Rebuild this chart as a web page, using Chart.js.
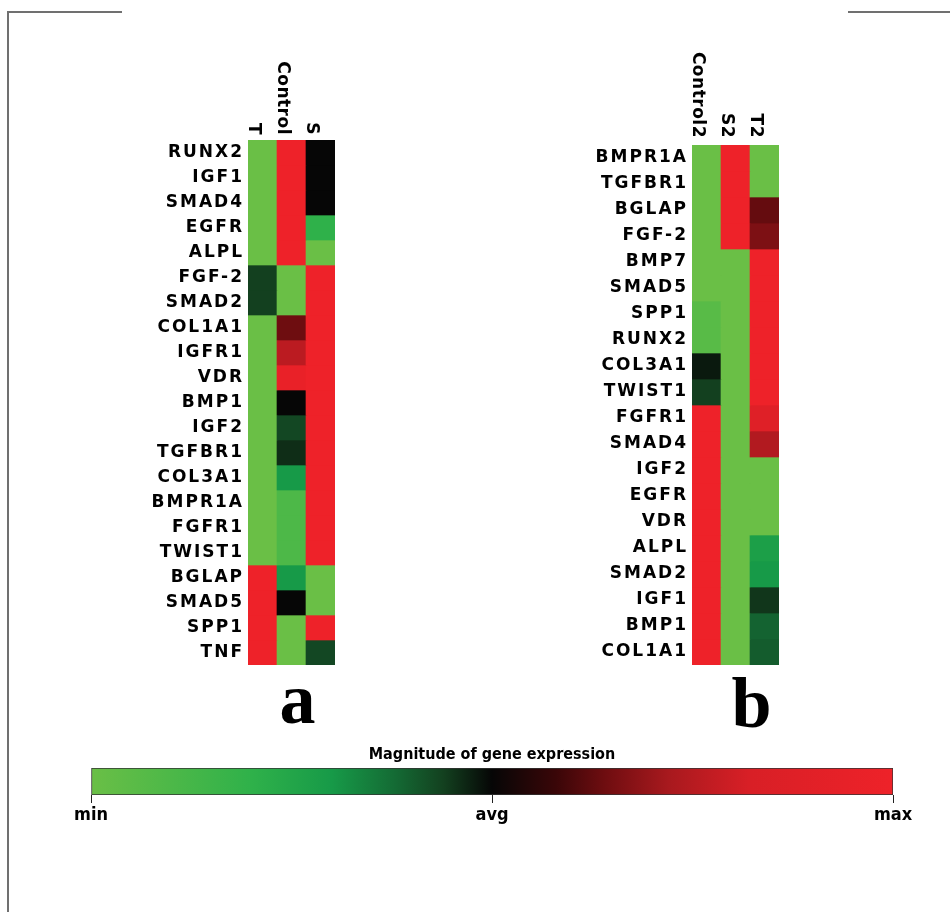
<!DOCTYPE html>
<html>
<head>
<meta charset="utf-8">
<script src="https://cdn.jsdelivr.net/npm/chart.js@4.4.0/dist/chart.umd.min.js"></script>
<style>
  body { margin: 0; background: #fff; width: 950px; height: 912px; position: relative; overflow: hidden; }
  .line { position: absolute; background: #707070; }
  canvas { position: absolute; }
</style>
</head>
<body>
<div class="line" style="left:7px;top:11px;width:115px;height:2px"></div>
<div class="line" style="left:848px;top:11px;width:102px;height:2px"></div>
<div class="line" style="left:7px;top:11px;width:2px;height:901px"></div>

<canvas id="heatA" width="210" height="700" style="left:140px;top:50px"></canvas>
<canvas id="heatB" width="220" height="700" style="left:580px;top:40px"></canvas>
<canvas id="colorBar" width="880" height="100" style="left:50px;top:735px"></canvas>

<script>
// Panel a
const genesA = ['RUNX2', 'IGF1', 'SMAD4', 'EGFR', 'ALPL', 'FGF-2', 'SMAD2', 'COL1A1', 'IGFR1', 'VDR', 'BMP1',
                'IGF2', 'TGFBR1', 'COL3A1', 'BMPR1A', 'FGFR1', 'TWIST1', 'BGLAP', 'SMAD5', 'SPP1', 'TNF'];
const groupsA = ['T', 'Control', 'S'];
// 0 = min (green), 0.5 = avg (black), 1 = max (red)
const valT       = [0, 0, 0, 0, 0, 0.44, 0.44, 0, 0, 0, 0, 0, 0, 0, 0, 0, 0, 1, 1, 1, 1];
const valControl = [1, 1, 1, 1, 1, 0, 0, 0.64, 0.76, 0.96, 0.5, 0.43, 0.46, 0.3, 0.1, 0.1, 0.1, 0.3, 0.5, 0, 0];
const valS       = [0.5, 0.5, 0.5, 0.2, 0, 1, 1, 1, 1, 1, 1, 1, 1, 1, 1, 1, 1, 0, 0, 1, 0.43];

// Panel b
const genesB = ['BMPR1A', 'TGFBR1', 'BGLAP', 'FGF-2', 'BMP7', 'SMAD5', 'SPP1', 'RUNX2', 'COL3A1', 'TWIST1',
                'FGFR1', 'SMAD4', 'IGF2', 'EGFR', 'VDR', 'ALPL', 'SMAD2', 'IGF1', 'BMP1', 'COL1A1'];
const groupsB = ['Control2', 'S2', 'T2'];
const valControl2 = [0, 0, 0, 0, 0, 0, 0.06, 0.06, 0.48, 0.44, 1, 1, 1, 1, 1, 1, 1, 1, 1, 1];
const valS2       = [1, 1, 1, 1, 0, 0, 0, 0, 0, 0, 0, 0, 0, 0, 0, 0, 0, 0, 0, 0];
const valT2       = [0, 0, 0.63, 0.66, 1, 1, 1, 1, 1, 1, 0.88, 0.74, 0, 0, 0, 0.28, 0.3, 0.45, 0.39, 0.4];

// colour scale
const scaleTicks = ['min', 'avg', 'max'];
const scaleTickPos = [0, 0.5, 1];
const stops = [
  [0.00, [106, 191, 70]],
  [0.20, [47, 177, 74]],
  [0.30, [23, 154, 72]],
  [0.38, [20, 106, 52]],
  [0.44, [19, 64, 31]],
  [0.50, [6, 6, 6]],
  [0.58, [58, 6, 8]],
  [0.64, [110, 13, 16]],
  [0.72, [168, 25, 30]],
  [0.82, [216, 31, 38]],
  [1.00, [238, 34, 41]]
];

function colorAt(t) {
  for (let i = 1; i < stops.length; i++) {
    if (t <= stops[i][0]) {
      const [t0, c0] = stops[i - 1];
      const [t1, c1] = stops[i];
      const f = (t - t0) / (t1 - t0);
      const c = c0.map((v, k) => Math.round(v + (c1[k] - v) * f));
      return `rgb(${c[0]},${c[1]},${c[2]})`;
    }
  }
  const c = stops[stops.length - 1][1];
  return `rgb(${c[0]},${c[1]},${c[2]})`;
}

// column labels (rotated) + panel letter
const panelPlugin = {
  id: 'panel',
  beforeDraw(chart) {
    chart.ctx.letterSpacing = '2px';
  },
  afterDraw(chart, args, o) {
    const { ctx, chartArea, scales: { x } } = chart;
    ctx.save();
    ctx.fillStyle = '#000';
    ctx.letterSpacing = '0.5px';
    ctx.font = 'bold 17px "DejaVu Sans"';
    ctx.textAlign = 'right';
    ctx.textBaseline = 'alphabetic';
    chart.data.labels.forEach((lab, i) => {
      ctx.save();
      ctx.translate(x.getPixelForValue(i) - 14, chartArea.top - o.gap);
      ctx.rotate(Math.PI / 2);
      ctx.fillText(lab, 0, 0);
      ctx.restore();
    });
    ctx.letterSpacing = '0px';
    ctx.font = 'bold 72px "Liberation Serif"';
    ctx.textAlign = 'center';
    ctx.fillText(o.letter, (chartArea.left + chartArea.right) / 2 + o.dx, chartArea.bottom + o.dy);
    ctx.restore();
  }
};

function heatmap(id, genes, groups, columns, opt) {
  const datasets = genes.map((g, i) => ({
    label: g,
    data: groups.map(() => 1),
    backgroundColor: columns.map(col => colorAt(col[i])),
    borderWidth: 0
  }));
  return new Chart(document.getElementById(id), {
    type: 'bar',
    data: { labels: groups, datasets: datasets },
    options: {
      responsive: false,
      animation: false,
      datasets: { bar: { barPercentage: 1, categoryPercentage: 1 } },
      layout: { padding: { left: 0, top: opt.top, right: opt.right, bottom: opt.bottom } },
      plugins: {
        legend: { display: false },
        tooltip: { enabled: false },
        panel: { letter: opt.letter, dx: opt.dx, dy: opt.dy, gap: opt.gap }
      },
      scales: {
        x: { stacked: true, display: false },
        y: {
          stacked: true,
          reverse: true,
          min: 0,
          max: genes.length,
          grid: { display: false, drawTicks: false },
          border: { display: false },
          afterFit: s => { s.width = opt.labelWidth; },
          afterBuildTicks: s => { s.ticks = genes.map((g, i) => ({ value: i + 0.5 })); },
          ticks: {
            autoSkip: false,
            padding: 4,
            color: '#000',
            font: { family: 'DejaVu Sans', size: 17, weight: 'bold' },
            callback: v => genes[Math.floor(v)]
          }
        }
      }
    },
    plugins: [panelPlugin]
  });
}

heatmap('heatA', genesA, groupsA, [valT, valControl, valS],
  { labelWidth: 108, top: 90, right: 15, bottom: 85, letter: 'a', dx: 6, dy: 58, gap: 5 });
heatmap('heatB', genesB, groupsB, [valControl2, valS2, valT2],
  { labelWidth: 112, top: 105, right: 21, bottom: 75, letter: 'b', dx: 16, dy: 62, gap: 7 });

// colour bar legend
const narrow = "'Liberation Sans Narrow', 'DejaVu Sans Condensed', sans-serif";
new Chart(document.getElementById('colorBar'), {
  type: 'bar',
  data: {
    labels: [''],
    datasets: [{
      data: [[0, 1]],
      backgroundColor: c => {
        const ca = c.chart.chartArea;
        if (!ca) return '#000';
        const g = c.chart.ctx.createLinearGradient(ca.left, 0, ca.right, 0);
        stops.forEach(s => g.addColorStop(s[0], `rgb(${s[1].join(',')})`));
        return g;
      },
      borderColor: '#333',
      borderWidth: 1,
      borderSkipped: false,
      barPercentage: 1,
      categoryPercentage: 1
    }]
  },
  options: {
    indexAxis: 'y',
    responsive: false,
    animation: false,
    layout: { padding: { left: 41, right: 37, top: 0, bottom: 0 } },
    plugins: {
      legend: { display: false },
      tooltip: { enabled: false },
      title: {
        display: true,
        text: 'Magnitude of gene expression',
        color: '#000',
        font: { family: narrow, size: 16, weight: 'bold', lineHeight: 1 },
        padding: { top: 12, bottom: 5 }
      }
    },
    scales: {
      y: { display: false },
      x: {
        min: 0,
        max: 1,
        grid: { drawOnChartArea: false, drawTicks: true, tickLength: 8, color: '#222' },
        border: { display: false },
        afterFit: s => { s.height = 40; },
        afterBuildTicks: s => { s.ticks = scaleTickPos.map(v => ({ value: v })); },
        ticks: {
          autoSkip: false,
          maxRotation: 0,
          padding: 3,
          color: '#000',
          font: { family: narrow, size: 18, weight: 'bold', lineHeight: 1 },
          callback: (v, i) => scaleTicks[i]
        }
      }
    }
  }
});
</script>
</body>
</html>
